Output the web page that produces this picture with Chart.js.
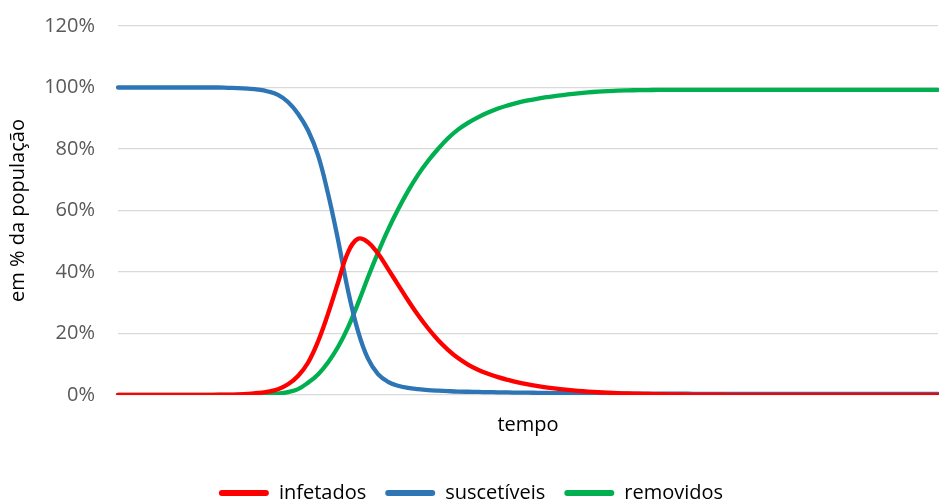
<!DOCTYPE html>
<html>
<head>
<meta charset="utf-8">
<script src="https://cdn.jsdelivr.net/npm/chart.js@4"></script>
<style>
  html, body { margin: 0; padding: 0; background: #fff; }
  #wrap { width: 939px; height: 504px; position: relative; }
</style>
</head>
<body>
<div id="wrap"><canvas id="c"></canvas></div>
<script>
// time steps (unlabelled on the axis)
const tempo = Array.from({ length: 83 }, (_, i) => i);

// share of the population (%) in each compartment
const infetados = [
  0, 0, 0, 0, 0, 0.01, 0.01, 0.02, 0.03, 0.05,
  0.08, 0.13, 0.22, 0.38, 0.65, 1.1, 1.9, 3.5, 6.2, 10.5,
  17.4, 26.4, 36.5, 46.4, 50.8, 49.7, 46.0, 41.0, 35.9, 30.8,
  26.0, 21.7, 17.9, 14.7, 12.0, 9.9, 8.2, 6.9, 5.8, 4.9,
  4.1, 3.45, 2.9, 2.4, 2.0, 1.65, 1.35, 1.1, 0.9, 0.74,
  0.6, 0.49, 0.4, 0.33, 0.27, 0.22, 0.18, 0.15, 0.12, 0.1,
  0.08, 0.07, 0.06, 0.05, 0.04, 0.04, 0.03, 0.03, 0.03, 0.02,
  0.02, 0.02, 0.02, 0.02, 0.01, 0.01, 0.01, 0.01, 0.01, 0.01,
  0.01, 0.01, 0.01
];
const suscetiveis = [
  100, 100, 100, 100, 100, 100, 100, 100, 100, 100, 100,
  99.9, 99.8, 99.6, 99.3, 98.7, 97.6, 95.3, 91.5, 86.1, 78.0,
  65.5, 50.5, 34.0, 20.8, 11.8, 6.8, 4.3, 3.0, 2.3, 1.9,
  1.6, 1.4, 1.25, 1.12, 1.05, 1.0, 0.93, 0.88, 0.83, 0.78,
  0.75, 0.7, 0.66, 0.62, 0.58, 0.55, 0.52, 0.5, 0.48, 0.46,
  0.45, 0.44, 0.43, 0.42, 0.41, 0.4,
  0.4, 0.39, 0.39, 0.38, 0.38, 0.38, 0.37, 0.37, 0.37, 0.37,
  0.36, 0.36, 0.36, 0.36, 0.36, 0.36, 0.35, 0.35, 0.35, 0.35,
  0.35, 0.35, 0.35, 0.35, 0.35, 0.35
];
const removidos = [
  0, 0, 0, 0, 0, 0, 0, 0, 0.01, 0.01,
  0.02, 0.03, 0.05, 0.08, 0.13, 0.24, 0.45, 0.95, 1.9, 4.0,
  6.7, 10.6, 15.6, 22.0, 29.8, 38.3, 46.3, 53.7, 60.3, 66.3,
  71.6, 76.1, 80.0, 83.5, 86.3, 88.5, 90.3, 91.85, 93.15, 94.2,
  95.1, 95.8, 96.4, 96.9, 97.35, 97.75, 98.1, 98.4, 98.65, 98.85,
  99.0, 99.08, 99.13, 99.17, 99.2, 99.2, 99.21, 99.21, 99.22, 99.22,
  99.22, 99.23, 99.23, 99.23, 99.23, 99.24, 99.24, 99.24, 99.24, 99.24,
  99.25, 99.25, 99.25, 99.25, 99.25, 99.25, 99.25, 99.25, 99.25, 99.25,
  99.25, 99.25, 99.25
];

const yTicksMax = 120;
const yTicksStep = 20;

const FONT = "'Open Sans', 'Liberation Sans', sans-serif";

function serie(label, data, color) {
  return {
    label, data,
    borderColor: color,
    backgroundColor: color,
    borderWidth: 4.3,
    borderCapStyle: 'round',
    borderJoinStyle: 'round',
    pointRadius: 0,
    pointHoverRadius: 0,
    tension: 0.4,
    fill: false
  };
}

new Chart(document.getElementById('c'), {
  type: 'line',
  data: {
    labels: tempo,
    datasets: [
      serie('infetados', infetados, '#FF0000'),
      serie('suscetíveis', suscetiveis, '#2E75B6'),
      serie('removidos', removidos, '#00B050')
    ]
  },
  options: {
    responsive: true,
    maintainAspectRatio: false,
    animation: false,
    events: [],
    layout: { padding: { top: 26, right: 1, bottom: 0, left: 4 } },
    plugins: {
      tooltip: { enabled: false },
      legend: {
        position: 'bottom',
        maxHeight: 40,
        labels: {
          font: { family: FONT, size: 20 },
          color: '#000',
          boxWidth: 50,
          boxHeight: 6,
          padding: 19,
          useBorderRadius: true,
          borderRadius: 3,
          generateLabels(chart) {
            return chart.data.datasets.map((ds, i) => ({
              text: ds.label,
              fillStyle: ds.borderColor,
              strokeStyle: ds.borderColor,
              lineWidth: 0,
              borderRadius: 3,
              fontColor: '#000',
              hidden: false,
              datasetIndex: i
            }));
          }
        }
      }
    },
    scales: {
      x: {
        type: 'category',
        offset: false,
        grid: { display: false },
        border: { display: false },
        ticks: { display: false },
        title: {
          display: true,
          text: 'tempo',
          color: '#000',
          font: { family: FONT, size: 20 },
          padding: { top: 19, bottom: 27 }
        },
        afterFit(scale) {
          scale.height = 69;
          scale.paddingLeft = 0;
          scale.paddingRight = 0;
        }
      },
      y: {
        min: 0,
        max: yTicksMax,
        grid: { color: '#d9d9d9', lineWidth: 1.3, drawTicks: false },
        border: { display: false },
        ticks: {
          stepSize: yTicksStep,
          padding: 23,
          color: '#595959',
          font: { family: FONT, size: 20 },
          callback: v => v + '%'
        },
        title: {
          display: true,
          text: 'em % da população',
          color: '#000',
          font: { family: FONT, size: 20 },
          padding: { top: 2, bottom: 10 }
        },
        afterFit(scale) {
          scale.width = 114;
          scale.paddingTop = 0;
          scale.paddingBottom = 0;
        }
      }
    }
  }
});
</script>
</body>
</html>
